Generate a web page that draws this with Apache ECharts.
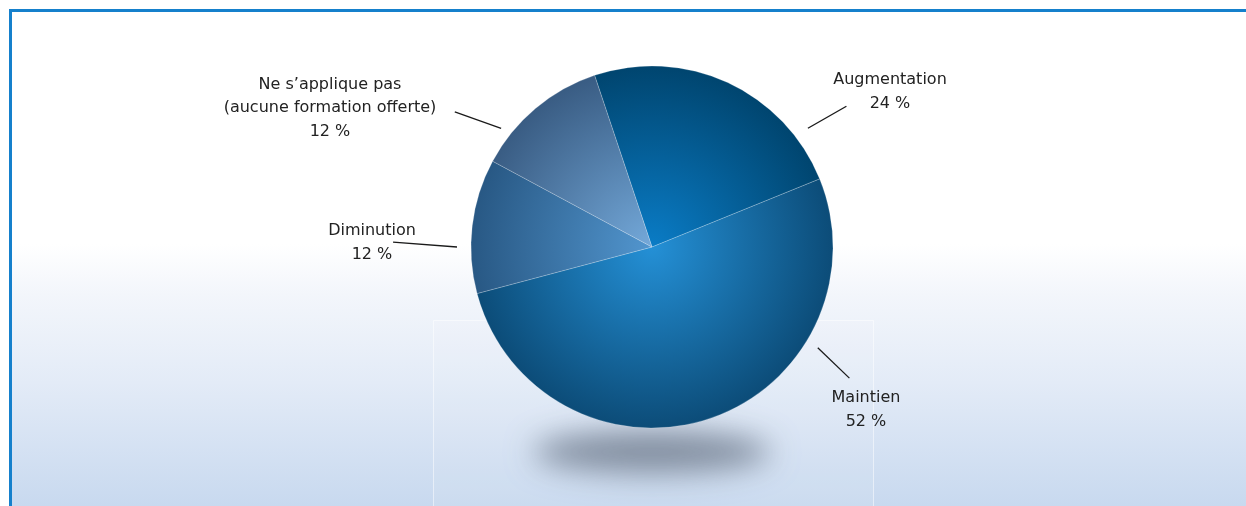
<!DOCTYPE html>
<html lang="fr">
<head>
<meta charset="utf-8">
<title>Formation offerte</title>
<script src="https://cdn.jsdelivr.net/npm/echarts@6/dist/echarts.min.js"></script>
<style>
  html, body { margin: 0; padding: 0; background: #ffffff; }
  #frame {
    position: absolute; left: 9px; top: 9px; width: 1237px; height: 497px;
    border-top: 3px solid #1580cc; border-left: 3px solid #1580cc;
    box-sizing: border-box;
    background: linear-gradient(to bottom, #ffffff 0%, #ffffff 47%, #f3f6fb 57%, #e3ebf7 75%, #c8d9ef 100%);
  }
  #chart { position: absolute; left: 0; top: 0; width: 1246px; height: 506px; }
</style>
</head>
<body>
<div id="frame"></div>
<div id="chart"></div>
<script>
// Répartition des réponses (en %)
const categories = ['Augmentation', 'Maintien', 'Diminution', 'Ne s\u2019applique pas\n(aucune formation offerte)'];
const values = [24, 52, 12, 12];

// Dégradés radiaux de chaque part : [centre, bord]
const sliceColors = [
  ['#0a7cc6', '#00456f'],
  ['#2490d6', '#0c4c78'],
  ['#5296cf', '#285884'],
  ['#74a9da', '#395c83']
];

// Géométrie du camembert
const CX = 652, CY = 247, R = 181;

// Position des étiquettes et des traits de rappel (coordonnées polaires autour du centre)
const labelPlacement = [
  { dx: 238, dy: -155, line: [[37.3, 196], [35.9, 240]] },
  { dx: 214, dy: 163, line: [[-31.3, 194], [-33.6, 237]] },
  { dx: -280, dy: -4, line: [[180, 195], [178.9, 259]] },
  { dx: -322, dy: -139, line: [[141.8, 192], [145.6, 239]] }
];

function polar(p) {
  const a = p[0] * Math.PI / 180;
  return [CX + p[1] * Math.cos(a), CY - p[1] * Math.sin(a)];
}

const chart = echarts.init(document.getElementById('chart'), null, { renderer: 'canvas' });

const data = categories.map((name, i) => ({
  name: name,
  value: values[i],
  itemStyle: {
    color: {
      type: 'radial', x: CX, y: CY, r: R, global: true,
      colorStops: [
        { offset: 0, color: sliceColors[i][0] },
        { offset: 1, color: sliceColors[i][1] }
      ]
    }
  }
}));

chart.setOption({
  animation: false,
  backgroundColor: 'transparent',
  graphic: [
    // cadre clair sous le camembert
    {
      type: 'rect', silent: true, z: -2,
      shape: { x: 433.5, y: 320.5, width: 440, height: 200 },
      style: { fill: 'rgba(255,255,255,0.06)', stroke: 'rgba(255,255,255,0.5)', lineWidth: 1 }
    },
    // ombre portée (dessinée hors champ puis décalée par l'ombre)
    {
      type: 'ellipse', silent: true, z: -1,
      shape: { cx: CX, cy: 452 - 2000, rx: 118, ry: 21 },
      style: {
        fill: '#7d8898',
        shadowColor: 'rgba(120,132,150,0.9)',
        shadowBlur: 30,
        shadowOffsetX: 0,
        shadowOffsetY: 2000
      }
    }
  ],
  series: [{
    type: 'pie',
    center: [CX, CY],
    radius: R,
    startAngle: 108.5,
    clockwise: true,
    avoidLabelOverlap: false,
    emphasis: { disabled: true },
    itemStyle: { borderColor: 'rgba(255,255,255,0.25)', borderWidth: 0.8 },
    label: {
      show: true,
      position: 'outside',
      formatter: p => p.name + '\n' + p.value + ' %',
      color: '#222222',
      fontFamily: 'DejaVu Sans',
      fontSize: 16,
      lineHeight: 23.5,
      align: 'center'
    },
    labelLine: {
      show: true,
      length: 10,
      length2: 10,
      smooth: false,
      lineStyle: { color: '#1a1a1a', width: 1.3 }
    },
    labelLayout: function (params) {
      const pl = labelPlacement[params.dataIndex];
      return {
        x: CX + pl.dx,
        y: CY + pl.dy,
        align: 'center',
        verticalAlign: 'middle',
        labelLinePoints: pl.line.map(polar)
      };
    },
    data: data
  }]
});
</script>
</body>
</html>
